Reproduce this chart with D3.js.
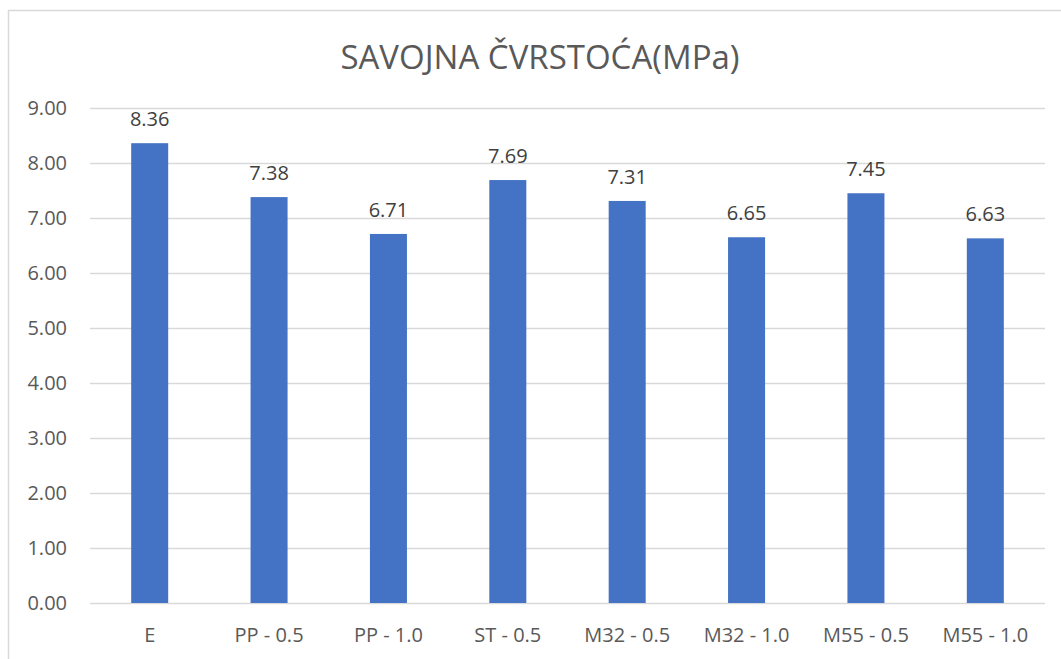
<!doctype html>
<html>
  <head>
    <meta charset="utf-8">
    <title>Savojna čvrstoća</title>
    <script src="https://cdnjs.cloudflare.com/ajax/libs/d3/7.8.5/d3.min.js"></script>
    <style>
      body { margin: 0; background: #fff; }
      svg { display: block; }
    </style>
  </head>
  <body>
    <svg id="chart" width="1061" height="659"></svg>
    <script>
      var categories = ["E", "PP - 0.5", "PP - 1.0", "ST - 0.5", "M32 - 0.5", "M32 - 1.0", "M55 - 0.5", "M55 - 1.0"];
      var values = [8.36, 7.38, 6.71, 7.69, 7.31, 6.65, 7.45, 6.63];
      var yTicks = [0, 1, 2, 3, 4, 5, 6, 7, 8, 9];
      var title = "SAVOJNA ČVRSTOĆA(MPa)";

      var svg = d3.select("#chart");
      var font = "'Open Sans', 'Noto Sans', sans-serif";

      // chart frame
      svg.append("rect")
        .attr("x", 8.5).attr("y", 10.5)
        .attr("width", 1070).attr("height", 660)
        .attr("fill", "#fff")
        .attr("stroke", "#d9d9d9")
        .attr("stroke-width", 1.5);

      var plotLeft = 90, plotRight = 1045, plotTop = 108, plotBottom = 603;

      var x = d3.scaleBand()
        .domain(categories)
        .range([plotLeft, plotRight])
        .paddingInner(0.69)
        .paddingOuter(0.345);

      var y = d3.scaleLinear()
        .domain([0, 9])
        .range([plotBottom, plotTop]);

      // gridlines
      svg.append("g")
        .selectAll("line")
        .data(yTicks)
        .enter()
        .append("line")
        .attr("x1", plotLeft).attr("x2", plotRight)
        .attr("y1", d => Math.round(y(d)) + 0.5)
        .attr("y2", d => Math.round(y(d)) + 0.5)
        .attr("stroke", "#d9d9d9")
        .attr("stroke-width", 1.3);

      // y tick labels
      svg.append("g")
        .selectAll("text")
        .data(yTicks)
        .enter()
        .append("text")
        .attr("x", 67)
        .attr("y", d => y(d))
        .attr("dy", "0.35em")
        .attr("text-anchor", "end")
        .attr("font-family", font)
        .attr("font-size", "20px")
        .attr("fill", "#595959")
        .text(d => d3.format(".2f")(d));

      // bars
      svg.append("g")
        .selectAll("rect")
        .data(values)
        .enter()
        .append("rect")
        .attr("x", (d, i) => x(categories[i]))
        .attr("y", d => y(d))
        .attr("width", x.bandwidth())
        .attr("height", d => y(0) - y(d))
        .attr("fill", "#4472c4");

      // data labels
      svg.append("g")
        .selectAll("text")
        .data(values)
        .enter()
        .append("text")
        .attr("x", (d, i) => x(categories[i]) + x.bandwidth() / 2)
        .attr("y", d => y(d) - 17)
        .attr("text-anchor", "middle")
        .attr("font-family", font)
        .attr("font-size", "20px")
        .attr("fill", "#404040")
        .text(d => d3.format(".2f")(d));

      // category labels
      svg.append("g")
        .selectAll("text")
        .data(categories)
        .enter()
        .append("text")
        .attr("x", d => x(d) + x.bandwidth() / 2)
        .attr("y", 642)
        .attr("text-anchor", "middle")
        .attr("font-family", font)
        .attr("font-size", "20px")
        .attr("fill", "#595959")
        .text(d => d);

      // title
      svg.append("text")
        .attr("x", 540)
        .attr("y", 69)
        .attr("text-anchor", "middle")
        .attr("font-family", font)
        .attr("font-size", "33px")
        .attr("fill", "#595959")
        .text(title);
    </script>
  </body>
</html>
